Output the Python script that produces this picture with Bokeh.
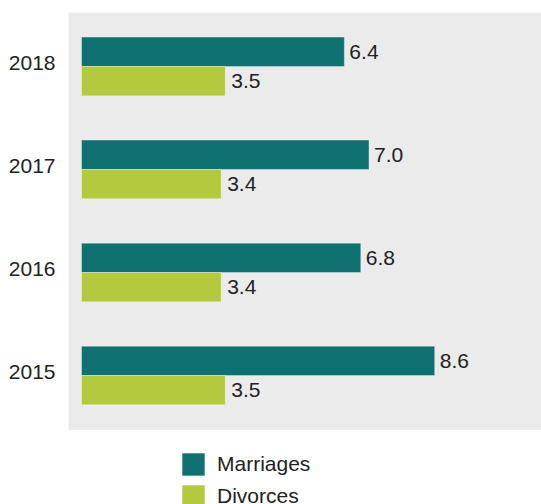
from bokeh.plotting import figure
from bokeh.models import ColumnDataSource, Range1d, Legend, LegendItem, FixedTicker
from bokeh.layouts import column
from bokeh.transform import dodge
from bokeh.core.properties import value
from bokeh.embed import file_html
from bokeh.resources import INLINE

years = ["2015", "2016", "2017", "2018"]
marriages = [8.6, 6.8, 7.0, 6.4]
divorces = [3.5, 3.4, 3.4, 3.5]
series = ["Marriages", "Divorces"]

FONT = "Liberation Sans"
TEAL = "#107270"
GREEN = "#b4c93e"
TXT = "#222222"

pos = list(range(len(years)))
src = ColumnDataSource(dict(
    pos=pos,
    marriages=marriages,
    divorces=divorces,
    m_label=[f"{v:.1f}" for v in marriages],
    d_label=[f"{v:.1f}" for v in divorces],
))

p = figure(width=541, height=430, output_backend="svg", toolbar_location=None,
           y_range=Range1d(-0.534, 3.524),
           x_range=Range1d(-0.317, 11.2),
           min_border_left=68, min_border_right=0, min_border_top=12, min_border_bottom=0)

off = 0.1425
bh = 0.285
p.hbar(y=dodge("pos", off), left=0, right="marriages", height=bh,
       source=src, fill_color=TEAL, line_color="white", line_alpha=0.35, line_width=1)
p.hbar(y=dodge("pos", -off), left=0, right="divorces", height=bh,
       source=src, fill_color=GREEN, line_color="white", line_alpha=0.35, line_width=1)

p.text(x="marriages", y=dodge("pos", off), text="m_label", source=src,
       x_offset=5, text_baseline="middle", text_align="left",
       text_font=value(FONT), text_font_size="21px", text_color=TXT)
p.text(x="divorces", y=dodge("pos", -off), text="d_label", source=src,
       x_offset=6, text_baseline="middle", text_align="left",
       text_font=value(FONT), text_font_size="21px", text_color=TXT)

p.background_fill_color = "#ebebeb"
p.border_fill_color = "white"
p.outline_line_color = None
p.xgrid.visible = False
p.ygrid.visible = False
p.xaxis.visible = False

label_shift = 0.03
tick_pos = [i + label_shift for i in pos]
ya = p.yaxis[0]
ya.ticker = FixedTicker(ticks=tick_pos)
ya.major_label_overrides = {t: y for t, y in zip(tick_pos, years)}
ya.axis_line_color = None
ya.major_tick_line_color = None
ya.minor_tick_line_color = None
ya.major_tick_out = 0
ya.major_tick_in = 0
ya.major_label_standoff = 13
ya.major_label_text_font = FONT
ya.major_label_text_font_size = "21px"
ya.major_label_text_color = TXT

# legend strip below the chart
p2 = figure(width=541, height=74, output_backend="svg", toolbar_location=None,
            x_axis_type=None, y_axis_type=None,
            x_range=Range1d(0, 1), y_range=Range1d(0, 1),
            min_border_left=0, min_border_right=0, min_border_top=0, min_border_bottom=0)
p2.outline_line_color = None
p2.background_fill_color = "white"
p2.xgrid.visible = False
p2.ygrid.visible = False
e1 = p2.hbar(y=[0], left=[0], right=[0], height=0.1, fill_color=TEAL, line_color=None, visible=False)
e2 = p2.hbar(y=[0], left=[0], right=[0], height=0.1, fill_color=GREEN, line_color=None, visible=False)

lg = Legend(items=[LegendItem(label=series[0], renderers=[e1]),
                   LegendItem(label=series[1], renderers=[e2])],
            location=(111, -6), orientation="vertical",
            glyph_width=28, glyph_height=28, label_standoff=10, spacing=4,
            padding=0, margin=0, border_line_color=None, background_fill_alpha=0,
            inactive_fill_alpha=0,
            label_text_font=FONT, label_text_font_size="21px",
            label_text_color=TXT, label_height=28)
p2.add_layout(lg, "center")

layout = column(p, p2, spacing=0)
open("out.html", "w").write(file_html(layout, INLINE))
